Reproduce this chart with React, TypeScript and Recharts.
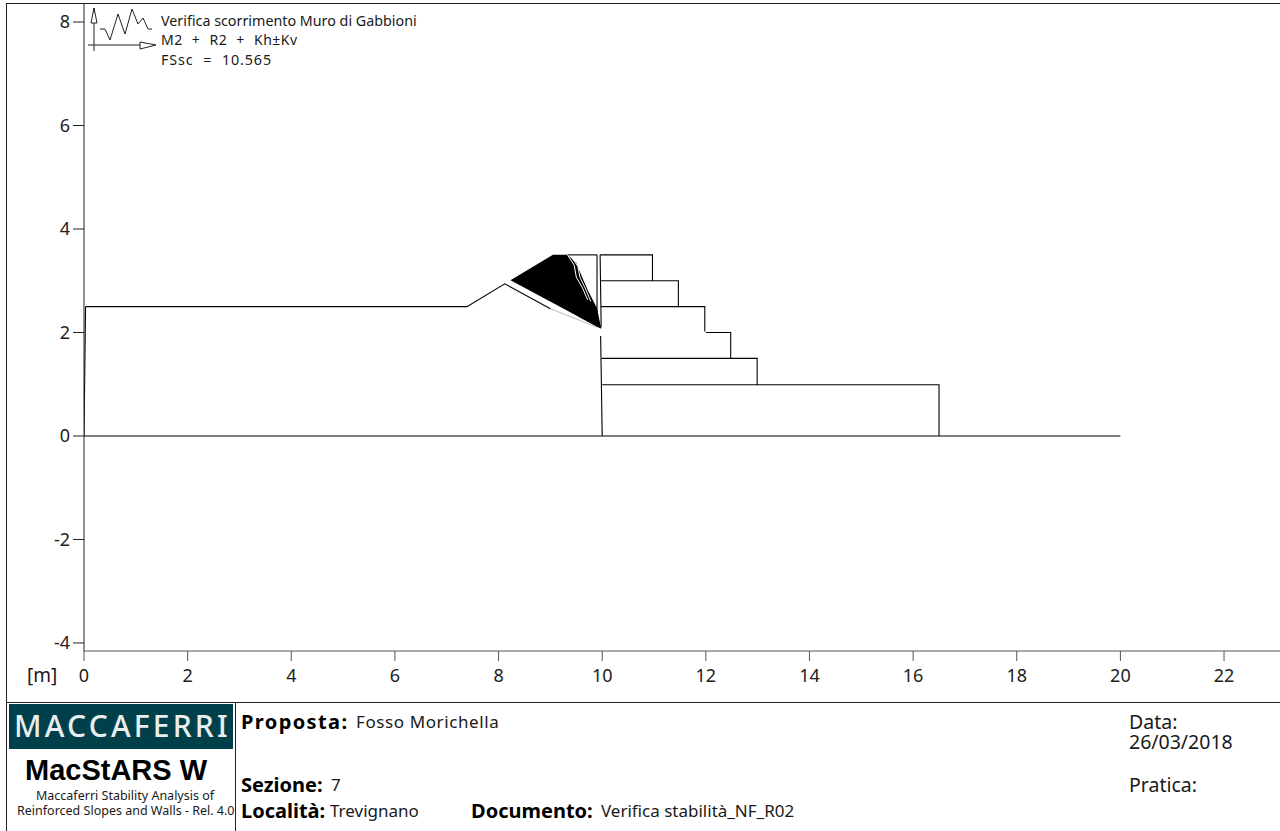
import { ComposedChart, XAxis, YAxis, Line, Area } from "recharts";

const W = 1280;
const H = 831;
const FONT = "'Noto Sans', Tahoma, sans-serif";

const xTicks = [0, 2, 4, 6, 8, 10, 12, 14, 16, 18, 20, 22];
const yTicks = [-4, -2, 0, 2, 4, 6, 8];

type Pt = { x: number; y: number };
const pts = (list: number[][]): Pt[] => list.map(([x, y]) => ({ x, y }));

// terrain and gabion outlines, metres
const groundLine = [[0, 0], [10.0, 0]];
const groundRight = [[10.0, 0], [16.5, 0], [20, 0]];
const leftEdge = [[0.03, 2.5], [0, 0]];
const slopeProfile = [[0.03, 2.5], [7.39, 2.5], [8.12, 2.94], [9.0, 2.46]];
const slopeTail = [[9.0, 2.46], [9.9, 2.1]];
const wallFace = [[9.97, 1.93], [10.0, 0]];
const backFace = [[9.9, 3.5], [9.9, 2.12]];
const frontFace = [[9.96, 3.5], [9.98, 2.1]];
const topCap = [[9.33, 3.5], [9.9, 3.5]];
const step1 = [[9.96, 3.5], [10.97, 3.5], [10.97, 3], [9.98, 3]];
const step2 = [[10.97, 3], [11.47, 3], [11.47, 2.5], [9.98, 2.5]];
const step3 = [[11.47, 2.5], [11.98, 2.5], [11.98, 2.02]];
const step4 = [[12.0, 2], [12.48, 2], [12.48, 1.5], [9.99, 1.5]];
const step5 = [[12.48, 1.5], [12.99, 1.5], [12.99, 0.99], [10, 0.99]];
const step6 = [[12.99, 0.99], [16.5, 0.99], [16.5, 0]];

// fan of slip surfaces, lower and upper bound per station
const fanBand = [
  { x: 8.23, band: [3.01, 3.01] },
  { x: 9.05, band: [2.57, 3.5] },
  { x: 9.33, band: [2.42, 3.5] },
  { x: 9.5, band: [2.33, 3.35] },
  { x: 9.6, band: [2.27, 3.1] },
  { x: 9.72, band: [2.21, 2.82] },
  { x: 9.9, band: [2.11, 2.47] },
  { x: 9.98, band: [2.07, 2.08] },
];
const whiteTrace = [[9.33, 3.5], [9.46, 3.3], [9.5, 3.07], [9.62, 2.86], [9.72, 2.63]];
const whiteTrace2 = [[9.4, 3.47], [9.53, 3.28], [9.57, 3.07], [9.68, 2.84], [9.78, 2.6]];

const outlines = [groundLine, leftEdge, slopeProfile, backFace, frontFace, topCap, wallFace, groundRight,
  step1, step2, step3, step4, step5, step6];

const titleLines = ["Verifica scorrimento Muro di Gabbioni", "M2 + R2 + Kh±Kv", "FSsc = 10.565"];
const iconTrace = "100,29 105,29 110,40 118,14 125,34 132,9 138,24 143,18 148,29 152,29";

function Txt({ x, y, size, bold, color, spacing, words, family, children }: any) {
  return (
    <div style={{ position: "absolute", left: x, top: y, transform: "translateY(-50%)", fontSize: size, fontWeight: bold ? 700 : 400,
      color: color || "#1a1a1a", whiteSpace: "pre", lineHeight: "20px", letterSpacing: spacing || 0, wordSpacing: words || 0, fontFamily: family || FONT }}>
      {children}
    </div>
  );
}

export default function App() {
  return (
    <div style={{ position: "absolute", left: 0, top: 0, width: W, height: H, background: "#fff", overflow: "hidden", fontFamily: FONT }}>
      <ComposedChart width={W} height={H} margin={{ top: 4, right: 0, bottom: 0, left: 0 }} style={{ position: "absolute", left: 0, top: 0 }}>
        <XAxis type="number" dataKey="x" domain={[0, 23.08]} ticks={xTicks} interval={0} height={180} tickSize={10} tickMargin={8}
          stroke="#555" tick={{ fontSize: 18, fill: "#222", fontFamily: FONT }} allowDataOverflow />
        <YAxis type="number" domain={[-4.155, 8.348]} ticks={yTicks} interval={0} width={84} tickSize={11} tickMargin={3}
          stroke="#222" tick={{ fontSize: 18, fill: "#222", fontFamily: FONT }} allowDataOverflow />
        <Area data={fanBand} dataKey="band" type="linear" stroke="none" fill="#000" fillOpacity={1} dot={false} activeDot={false} isAnimationActive={false} />
        {outlines.map((o, i) => (
          <Line key={i} data={pts(o)} dataKey="y" type="linear" stroke="#000" strokeWidth={1.1} dot={false} activeDot={false} isAnimationActive={false} />
        ))}
        <Line data={pts(slopeTail)} dataKey="y" type="linear" stroke="#555" strokeWidth={0.4} dot={false} activeDot={false} isAnimationActive={false} />
        <Line data={pts(whiteTrace)} dataKey="y" type="linear" stroke="#fff" strokeWidth={1} dot={false} activeDot={false} isAnimationActive={false} />
        <Line data={pts(whiteTrace2)} dataKey="y" type="linear" stroke="#fff" strokeWidth={1} dot={false} activeDot={false} isAnimationActive={false} />
      </ComposedChart>

      {/* page frame */}
      <div style={{ position: "absolute", left: 6, top: 3, width: W - 6, height: 1, background: "#222" }} />
      <div style={{ position: "absolute", left: 6, top: 3, width: 1, height: H - 3, background: "#222" }} />
      <div style={{ position: "absolute", left: 6, top: 702, width: W - 6, height: 1, background: "#222" }} />
      <div style={{ position: "absolute", left: 235, top: 702, width: 1, height: H - 702, background: "#222" }} />

      {/* graph icon */}
      <svg width={170} height={60} style={{ position: "absolute", left: 0, top: 0 }}>
        <polyline points={iconTrace} fill="none" stroke="#222" strokeWidth={1} />
        <line x1={94} y1={8} x2={94} y2={51} stroke="#222" />
        <line x1={88} y1={45} x2={140} y2={45} stroke="#222" />
        <polygon points="94,8 91,23 97,23" fill="#fff" stroke="#222" />
        <polygon points="156,45 140,42 140,49" fill="#fff" stroke="#222" />
      </svg>
      <Txt x={161} y={21} size={14.3}>{titleLines[0]}</Txt>
      <Txt x={161} y={40} size={14} words={5} spacing={0.5}>{titleLines[1]}</Txt>
      <Txt x={161} y={60} size={14.3} words={5} spacing={0.9}>{titleLines[2]}</Txt>
      <Txt x={27} y={675} size={19}>[m]</Txt>

      {/* title block */}
      <div style={{ position: "absolute", left: 9, top: 704, width: 224, height: 45, background: "#00404a" }} />
      <div style={{ position: "absolute", left: 14, top: 726, transform: "translateY(-50%)", fontSize: 30, fontWeight: 500, letterSpacing: 3.2, color: "#e8eeee", lineHeight: 1, whiteSpace: "nowrap" }}>MACCAFERRI</div>
      <Txt x={25} y={770} size={29} bold color="#000" family="'Liberation Sans', Arial, sans-serif">MacStARS W</Txt>
      <Txt x={36} y={796} size={12.5}>Maccaferri Stability Analysis of</Txt>
      <Txt x={17} y={811} size={12.5}>Reinforced Slopes and Walls - Rel. 4.0</Txt>
      <Txt x={241} y={722} size={20} bold spacing={1.4} color="#000">Proposta:</Txt>
      <Txt x={356} y={722} size={17} spacing={0.6}>Fosso Morichella</Txt>
      <Txt x={241} y={785} size={20} bold color="#000">Sezione:</Txt>
      <Txt x={331} y={785} size={17}>7</Txt>
      <Txt x={241} y={811} size={20} bold color="#000">Località:</Txt>
      <Txt x={330} y={811} size={17}>Trevignano</Txt>
      <Txt x={471} y={811} size={20} bold color="#000">Documento:</Txt>
      <Txt x={601} y={811} size={17}>Verifica stabilità_NF_R02</Txt>
      <Txt x={1129} y={732} size={19.5}>{"Data:\n26/03/2018"}</Txt>
      <Txt x={1129} y={785} size={19.5}>Pratica:</Txt>
    </div>
  );
}
